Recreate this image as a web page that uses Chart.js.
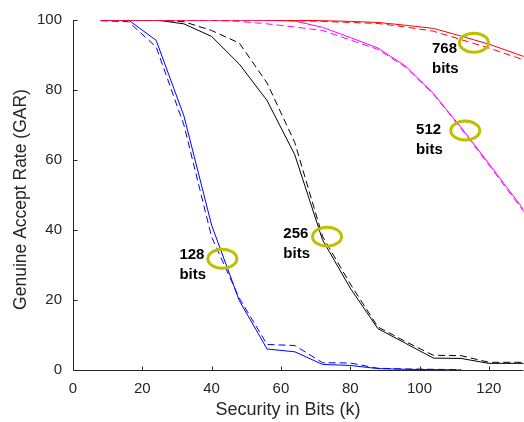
<!DOCTYPE html>
<html>
<head>
<meta charset="utf-8">
<script src="https://cdn.jsdelivr.net/npm/chart.js@4/dist/chart.umd.min.js"></script>
<style>
  html, body { margin: 0; padding: 0; background: #fff; }
  #wrap { width: 524px; height: 422px; position: relative; }
</style>
</head>
<body>
<div id="wrap"><canvas id="c" width="524" height="422"></canvas></div>
<script>
// ---- data ----
const securityBits = [8, 16, 24, 32, 40, 48, 56, 64, 72, 80, 88, 96, 104, 112, 120, 128, 136];

const gar128Solid  = [100, 100, 94.2, 72.6, 41.4, 19.8, 6.0, 5.2, 1.6, 1.3, 0.4, 0.2, 0.1, 0.0];
const gar128Dashed = [99.8, 99.5, 92.3, 70.0, 38.0, 20.5, 7.3, 7.0, 2.1, 2.0, 0.5, 0.3, 0.2, 0.1];

const gar256Solid  = [100, 100, 100, 98.9, 95.3, 87.4, 77.0, 61.5, 37.2, 23.4, 11.8, 7.6, 3.4, 3.3, 1.9, 1.9, 1.9];
const gar256Dashed = [100, 100, 100, 99.5, 97.0, 93.4, 82.0, 65.0, 38.2, 24.6, 12.3, 8.1, 4.2, 4.1, 2.2, 2.2, 2.2];

const gar512Solid  = [100, 100, 100, 100, 100, 100, 99.9, 99.7, 97.9, 95.0, 92.0, 86.8, 79.0, 69.3, 59.0, 48.5, 38.0];
const gar512Dashed = [100, 100, 100, 100, 99.9, 99.6, 98.9, 98.0, 97.0, 94.3, 91.6, 86.5, 78.8, 69.0, 58.6, 48.0, 37.6];

const gar768Solid  = [100, 100, 100, 100, 100, 100, 100, 99.9, 99.8, 99.6, 99.3, 98.5, 97.6, 95.4, 93.1, 90.3, 87.5];
const gar768Dashed = [100, 100, 100, 100, 100, 100, 100, 99.8, 99.6, 99.3, 99.0, 98.0, 96.8, 94.4, 92.0, 89.3, 86.6];

const xTickLabels = [0, 20, 40, 60, 80, 100, 120];
const yTickLabels = [0, 20, 40, 60, 80, 100];

const xTitle = 'Security in Bits (k)';
const yTitle = 'Genuine Accept Rate (GAR)';

// callouts (data coordinates of circled points and their labels)
const calloutText = ['768', '512', '256', '128'];
const calloutCircleX = [115.7, 113.2, 73.3, 43.1];
const calloutCircleY = [93.5, 68.4, 38.1, 31.8];
const calloutLabelX = [103.6, 99.0, 60.7, 30.7];
const calloutLabelY = [91.8, 68.5, 38.8, 32.8];

// ---- build chart ----
function pts(vals) { return vals.map((v, i) => ({ x: securityBits[i], y: v })); }
function ds(label, vals, color, dashed) {
  return {
    label, data: pts(vals), borderColor: color, backgroundColor: color,
    borderWidth: 1, borderDash: dashed ? [7, 4] : [], pointRadius: 0,
    tension: 0, fill: false
  };
}

const axisColor = '#262626';
const fontFam = '"Liberation Sans", Arial, Helvetica, sans-serif';
const targetArea = { left: 73, top: 16, right: 524, bottom: 370 };

const decorPlugin = {
  id: 'decor',
  afterDatasetsDraw(chart) {
    const { ctx, chartArea, scales: { x, y } } = chart;
    ctx.save();
    ctx.strokeStyle = axisColor;
    ctx.lineWidth = 1;
    ctx.beginPath();
    const l = Math.round(chartArea.left) + 0.5;
    const b = Math.round(chartArea.bottom) + 0.5;
    ctx.moveTo(l, chartArea.top);
    ctx.lineTo(l, b);
    ctx.lineTo(chartArea.right, b);
    xTickLabels.forEach(v => {
      const px = Math.round(x.getPixelForValue(v)) + 0.5;
      ctx.moveTo(px, b); ctx.lineTo(px, b - 4);
    });
    yTickLabels.forEach(v => {
      const py = Math.round(y.getPixelForValue(v)) + 0.5;
      ctx.moveTo(l, py); ctx.lineTo(l + 4, py);
    });
    ctx.stroke();

    // axis titles
    ctx.fillStyle = axisColor;
    ctx.textAlign = 'center';
    ctx.textBaseline = 'middle';
    ctx.font = '18px ' + fontFam;
    ctx.fillText(xTitle, 288, 410);
    ctx.save();
    ctx.translate(21.5, 199.5);
    ctx.rotate(-Math.PI / 2);
    ctx.font = '17.5px ' + fontFam;
    ctx.fillText(yTitle, 0, 0);
    ctx.restore();

    for (let i = 0; i < calloutText.length; i++) {
      const cx = x.getPixelForValue(calloutCircleX[i]);
      const cy = y.getPixelForValue(calloutCircleY[i]);
      ctx.beginPath();
      ctx.ellipse(cx, cy, 14.5, 9.5, 0, 0, Math.PI * 2);
      ctx.strokeStyle = '#bfbf00';
      ctx.lineWidth = 3;
      ctx.stroke();
      const lx = x.getPixelForValue(calloutLabelX[i]);
      const ly = y.getPixelForValue(calloutLabelY[i]);
      ctx.fillStyle = '#000';
      ctx.font = 'bold 15px ' + fontFam;
      ctx.textAlign = 'left';
      ctx.textBaseline = 'middle';
      ctx.fillText(calloutText[i], lx, ly);
      ctx.fillText('bits', lx, ly + 20);
    }
    ctx.restore();
  }
};

const chart = new Chart(document.getElementById('c'), {
  type: 'line',
  data: {
    datasets: [
      ds('768 bits', gar768Solid, '#ff0000', false),
      ds('768 bits (dashed)', gar768Dashed, '#ff0000', true),
      ds('512 bits', gar512Solid, '#ff00ff', false),
      ds('512 bits (dashed)', gar512Dashed, '#ff00ff', true),
      ds('256 bits', gar256Solid, '#000000', false),
      ds('256 bits (dashed)', gar256Dashed, '#000000', true),
      ds('128 bits', gar128Solid, '#0000ff', false),
      ds('128 bits (dashed)', gar128Dashed, '#0000ff', true)
    ]
  },
  options: {
    responsive: false,
    animation: false,
    devicePixelRatio: 1,
    layout: { padding: { left: 0, right: 0, top: 12, bottom: 0 } },
    plugins: { legend: { display: false }, tooltip: { enabled: false } },
    scales: {
      x: {
        type: 'linear', min: 0, max: 130,
        afterBuildTicks: s => { s.ticks = xTickLabels.map(v => ({ value: v })); },
        afterFit: s => { s.height = 52; },
        grid: { display: false, drawTicks: false },
        border: { display: false },
        ticks: { color: axisColor, font: { family: fontFam, size: 15 }, padding: 10, maxRotation: 0 },
        title: { display: false }
      },
      y: {
        type: 'linear', min: 0, max: 100,
        afterBuildTicks: s => { s.ticks = yTickLabels.map(v => ({ value: v })); },
        afterFit: s => { s.width = 73; },
        grid: { display: false, drawTicks: false },
        border: { display: false },
        ticks: { color: axisColor, font: { family: fontFam, size: 15 }, padding: 11 },
        title: { display: false }
      }
    }
  },
  plugins: [decorPlugin]
});

// nudge layout padding so the plot area lands where the reference has it
for (let k = 0; k < 3; k++) {
  const a = chart.chartArea;
  const p = chart.options.layout.padding;
  const dTop = targetArea.top - a.top;
  const dBottom = a.bottom - targetArea.bottom;
  const dLeft = targetArea.left - a.left;
  const dRight = a.right - targetArea.right;
  if (Math.abs(dTop) < 0.5 && Math.abs(dBottom) < 0.5 && Math.abs(dLeft) < 0.5 && Math.abs(dRight) < 0.5) break;
  p.top = Math.max(0, p.top + dTop);
  p.bottom = Math.max(0, p.bottom + dBottom);
  p.left = Math.max(0, p.left + dLeft);
  p.right = Math.max(0, p.right + dRight);
  chart.update();
}
</script>
</body>
</html>
